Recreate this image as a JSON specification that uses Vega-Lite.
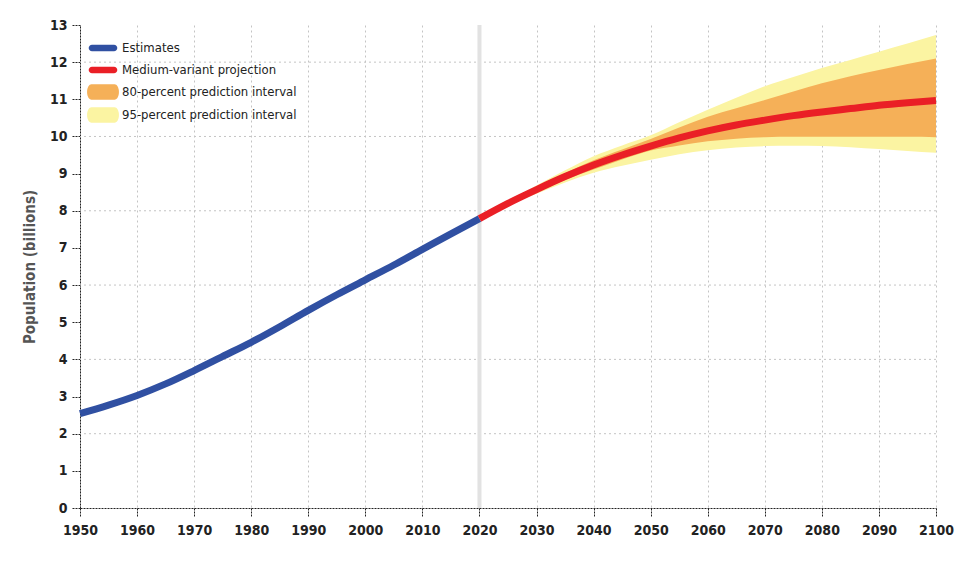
{
  "$schema": "https://vega.github.io/schema/vega-lite/v6.json",
  "width": 856,
  "height": 483,
  "autosize": {"type": "none"},
  "padding": {"left": 80, "top": 25, "right": 40, "bottom": 61},
  "background": "white",
  "config": {
    "view": {"stroke": null},
    "font": "DejaVu Sans Condensed, Liberation Sans, sans-serif",
    "axis": {
      "labelFont": "DejaVu Sans Condensed, Liberation Sans, sans-serif",
      "labelFontWeight": "bold",
      "labelFontSize": 14,
      "labelColor": "#222",
      "domainColor": "#222",
      "domainDash": [2, 1],
      "domainWidth": 1,
      "tickColor": "#222",
      "tickDash": [2, 1],
      "tickSize": 9,
      "gridColor": "#c4c4c4",
      "gridDash": [2, 3],
      "gridWidth": 1
    },
    "legend": {
      "labelFont": "DejaVu Sans Condensed, Liberation Sans, sans-serif",
      "labelFontSize": 13,
      "labelColor": "#222",
      "title": null
    }
  },
  "datasets": {
    "lines": [
      {"year": 1950, "pop": 2.54, "series": "Estimates"},
      {"year": 1955, "pop": 2.77, "series": "Estimates"},
      {"year": 1960, "pop": 3.03, "series": "Estimates"},
      {"year": 1965, "pop": 3.34, "series": "Estimates"},
      {"year": 1970, "pop": 3.70, "series": "Estimates"},
      {"year": 1975, "pop": 4.08, "series": "Estimates"},
      {"year": 1980, "pop": 4.46, "series": "Estimates"},
      {"year": 1985, "pop": 4.88, "series": "Estimates"},
      {"year": 1990, "pop": 5.32, "series": "Estimates"},
      {"year": 1995, "pop": 5.74, "series": "Estimates"},
      {"year": 2000, "pop": 6.14, "series": "Estimates"},
      {"year": 2005, "pop": 6.54, "series": "Estimates"},
      {"year": 2010, "pop": 6.96, "series": "Estimates"},
      {"year": 2015, "pop": 7.38, "series": "Estimates"},
      {"year": 2020, "pop": 7.79, "series": "Estimates"},
      {"year": 2020, "pop": 7.79, "series": "Medium-variant projection"},
      {"year": 2025, "pop": 8.20, "series": "Medium-variant projection"},
      {"year": 2030, "pop": 8.57, "series": "Medium-variant projection"},
      {"year": 2035, "pop": 8.92, "series": "Medium-variant projection"},
      {"year": 2040, "pop": 9.23, "series": "Medium-variant projection"},
      {"year": 2045, "pop": 9.50, "series": "Medium-variant projection"},
      {"year": 2050, "pop": 9.74, "series": "Medium-variant projection"},
      {"year": 2055, "pop": 9.96, "series": "Medium-variant projection"},
      {"year": 2060, "pop": 10.15, "series": "Medium-variant projection"},
      {"year": 2065, "pop": 10.31, "series": "Medium-variant projection"},
      {"year": 2070, "pop": 10.44, "series": "Medium-variant projection"},
      {"year": 2075, "pop": 10.56, "series": "Medium-variant projection"},
      {"year": 2080, "pop": 10.66, "series": "Medium-variant projection"},
      {"year": 2085, "pop": 10.75, "series": "Medium-variant projection"},
      {"year": 2090, "pop": 10.84, "series": "Medium-variant projection"},
      {"year": 2095, "pop": 10.91, "series": "Medium-variant projection"},
      {"year": 2100, "pop": 10.97, "series": "Medium-variant projection"}
    ],
    "bands": [
      {"year": 2020, "lo95": 7.79, "lo80": 7.79, "hi80": 7.79, "hi95": 7.79},
      {"year": 2025, "lo95": 8.16, "lo80": 8.18, "hi80": 8.22, "hi95": 8.24},
      {"year": 2030, "lo95": 8.46, "lo80": 8.51, "hi80": 8.63, "hi95": 8.68},
      {"year": 2035, "lo95": 8.76, "lo80": 8.83, "hi80": 9.01, "hi95": 9.09},
      {"year": 2040, "lo95": 9.02, "lo80": 9.11, "hi80": 9.36, "hi95": 9.47},
      {"year": 2045, "lo95": 9.21, "lo80": 9.38, "hi80": 9.65, "hi95": 9.76},
      {"year": 2050, "lo95": 9.37, "lo80": 9.62, "hi80": 9.93, "hi95": 10.03},
      {"year": 2055, "lo95": 9.52, "lo80": 9.76, "hi80": 10.24, "hi95": 10.38},
      {"year": 2060, "lo95": 9.63, "lo80": 9.87, "hi80": 10.53, "hi95": 10.72},
      {"year": 2065, "lo95": 9.70, "lo80": 9.94, "hi80": 10.76, "hi95": 11.04},
      {"year": 2070, "lo95": 9.74, "lo80": 9.98, "hi80": 10.98, "hi95": 11.35},
      {"year": 2075, "lo95": 9.75, "lo80": 9.99, "hi80": 11.21, "hi95": 11.60},
      {"year": 2080, "lo95": 9.74, "lo80": 9.99, "hi80": 11.43, "hi95": 11.84},
      {"year": 2085, "lo95": 9.71, "lo80": 9.99, "hi80": 11.62, "hi95": 12.06},
      {"year": 2090, "lo95": 9.66, "lo80": 9.99, "hi80": 11.79, "hi95": 12.28},
      {"year": 2095, "lo95": 9.61, "lo80": 9.99, "hi80": 11.95, "hi95": 12.50},
      {"year": 2100, "lo95": 9.56, "lo80": 9.98, "hi80": 12.10, "hi95": 12.73}
    ],
    "hgrid": [{"g": 2}, {"g": 4}, {"g": 6}, {"g": 8}, {"g": 10}, {"g": 12}],
    "divider": [{"year": 2020}]
  },
  "encoding": {
    "y": {"type": "quantitative", "scale": {"domain": [0, 13], "nice": false},
      "axis": {"values": [0,1,2,3,4,5,6,7,8,9,10,11,12,13], "grid": false, "title": "Population (billions)",
        "titleFont": "DejaVu Sans Condensed, Liberation Sans, sans-serif", "titleFontSize": 15, "titleFontWeight": "bold", "titleColor": "#555",
        "titlePadding": 12, "labelPadding": 4}},
    "x": {"type": "quantitative",
      "scale": {"domain": [1950, 2100], "nice": false, "zero": false},
      "axis": {"values": [1950,1960,1970,1980,1990,2000,2010,2020,2030,2040,2050,2060,2070,2080,2090,2100], "format": "d", "grid": true, "title": null, "labelPadding": 6, "labelFlush": false}}
  },
  "layer": [
    {
      "data": {"name": "hgrid"},
      "mark": {"type": "rule", "color": "#c4c4c4", "strokeDash": [2, 3], "strokeWidth": 1},
      "encoding": {
        "y": {"field": "g"}
      }
    },
    {
      "data": {"name": "divider"},
      "mark": {"type": "rule", "color": "#e2e2e2", "strokeWidth": 4},
      "encoding": {
        "x": {"field": "year"}
      }
    },
    {
      "data": {"name": "bands"},
      "mark": {"type": "area", "opacity": 1, "interpolate": "monotone"},
      "encoding": {
        "x": {"field": "year"},
        "y": {"field": "lo95"},
        "y2": {"field": "hi95"},
        "color": {"datum": "95-percent prediction interval", "type": "nominal"}
      }
    },
    {
      "data": {"name": "bands"},
      "mark": {"type": "area", "opacity": 1, "interpolate": "monotone"},
      "encoding": {
        "x": {"field": "year"},
        "y": {"field": "lo80"},
        "y2": {"field": "hi80"},
        "color": {"datum": "80-percent prediction interval", "type": "nominal"}
      }
    },
    {
      "data": {"name": "lines"},
      "mark": {"type": "line", "strokeWidth": 7, "interpolate": "monotone", "strokeCap": "butt"},
      "encoding": {
        "x": {"field": "year"},
        "y": {"field": "pop"},
        "color": {"field": "series", "type": "nominal",
          "scale": {"domain": ["Estimates", "Medium-variant projection", "80-percent prediction interval", "95-percent prediction interval"], "range": ["#3050a2", "#ea1f26", "#f5b058", "#fbf4a2"]},
          "legend": {"orient": "top-left", "offset": 12, "padding": 0, "rowPadding": 4, "labelOffset": 8, "labelLimit": 400,
            "symbolSize": 484, "symbolStrokeWidth": 0,
            "encode": {
              "symbols": {"update": {
                "fill": {"signal": "datum.value === '80-percent prediction interval' ? '#f8b57f' : scale('color', datum.value)"},
                "stroke": {"value": "transparent"},
                "opacity": {"value": 1},
                "shape": {"signal": "datum.index < 2 ? 'M-1.0,-0.3L1.0,-0.3A0.3,0.3 0 0 1 1.0,0.3L-1.0,0.3A0.3,0.3 0 0 1 -1.0,-0.3Z' : 'M-1.05,-0.7L1.05,-0.7A0.4,0.7 0 0 1 1.05,0.7L-1.05,0.7A0.4,0.7 0 0 1 -1.05,-0.7Z'"}
              }}
            }}
        }
      }
    }
  ]
}
